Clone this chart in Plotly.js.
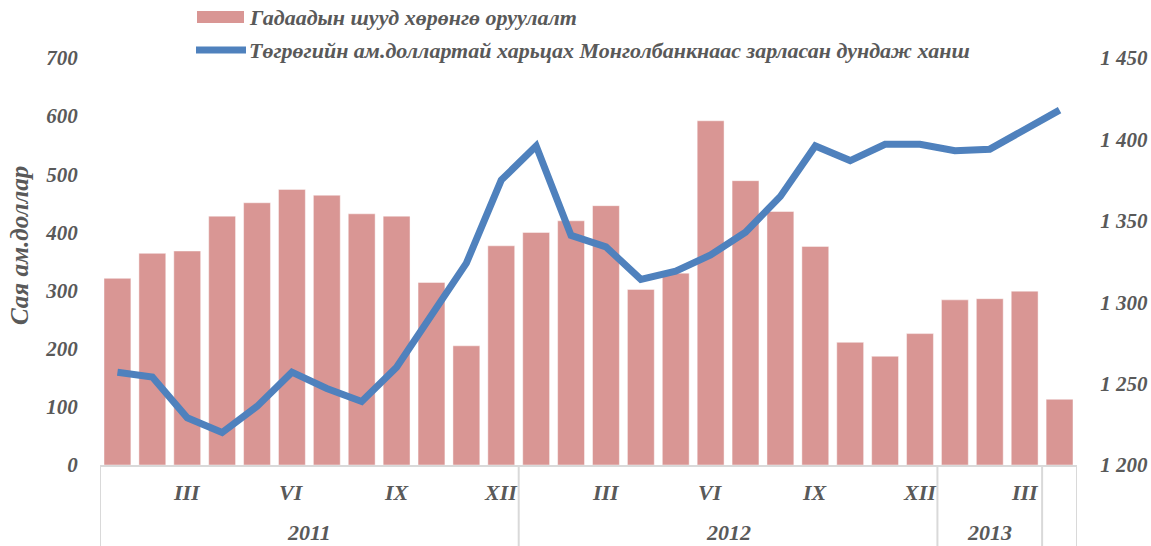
<!DOCTYPE html>
<html>
<head>
<meta charset="utf-8">
<script src="https://cdn.plot.ly/plotly-3.0.1.min.js"></script>
<style>html,body{margin:0;padding:0;background:#fff;}#chart{width:1151px;height:546px;}</style>
</head>
<body>
<div id="chart"></div>
<script>
// Month tick labels (only every third month is labelled)
const monthLabels = ['', '', 'III', '', '', 'VI', '', '', 'IX', '', '', 'XII',
                     '', '', 'III', '', '', 'VI', '', '', 'IX', '', '', 'XII',
                     '', '', 'III', ''];
// Year groups on the category axis
const yearLabels = ['2011', '2012', '2013', ''];
const yearSpans = [12, 12, 3, 1];
// Foreign direct investment, million USD
const fdi = [321, 364, 368, 428, 451, 474, 464, 432, 428, 314, 205, 377,
             400, 420, 446, 302, 330, 592, 489, 436, 376, 211, 187, 226,
             284, 286, 299, 113];
// Average MNT/USD rate announced by the Bank of Mongolia
const rate = [1257, 1254, 1229, 1220, 1236, 1257, 1247, 1239, 1260, 1292, 1324, 1375,
              1396, 1341, 1334, 1314, 1319, 1329, 1343, 1365, 1396, 1387, 1397, 1397,
              1393, 1394, 1406, 1418];
const seriesNames = ['Гадаадын шууд хөрөнгө оруулалт',
                     'Төгрөгийн ам.доллартай харьцах Монголбанкнаас зарласан дундаж ханш'];
const leftTitle = 'Сая ам.доллар';

const x = fdi.map((_, i) => i + 1);
const tickColor = '#595959';
const fam = 'Liberation Serif, Times New Roman, serif';
const fnt = (s) => ({family: fam, size: s, color: tickColor, weight: 'bold', style: 'italic'});

const traces = [
  {type: 'bar', x: x, y: fdi, name: seriesNames[0], yaxis: 'y',
   marker: {color: '#D99694', line: {color: 'rgba(255,255,255,0.45)', width: 1}},
   showlegend: false, hoverinfo: 'y'},
  {type: 'scatter', mode: 'lines', x: x, y: rate, name: seriesNames[1], yaxis: 'y2',
   line: {color: '#4F81BD', width: 7}, showlegend: false, hoverinfo: 'y'}
];

const annotations = [];
const shapes = [];
// month labels
monthLabels.forEach((m, i) => {
  if (m) annotations.push({x: i + 1, y: 0, xref: 'x', yref: 'paper', text: m, showarrow: false,
    yshift: -27, yanchor: 'middle', font: fnt(22)});
});
// year labels + dividers
let start = 0.5;
shapes.push({type: 'line', xref: 'x', yref: 'paper', x0: start, x1: start, y0: 0, y1: -0.2,
  line: {color: '#D9D9D9', width: 2}});
yearLabels.forEach((yl, i) => {
  const end = start + yearSpans[i];
  if (yl) annotations.push({x: (start + end) / 2, y: 0, xref: 'x', yref: 'paper', text: yl,
    showarrow: false, yshift: -67, yanchor: 'middle', font: fnt(22)});
  shapes.push({type: 'line', xref: 'x', yref: 'paper', x0: end, x1: end, y0: 0, y1: -0.2,
    line: {color: '#D9D9D9', width: 2}});
  start = end;
});
// manual legend
shapes.push({type: 'rect', xref: 'paper', yref: 'paper',
  x0: (197 - 100) / 977, x1: (244 - 100) / 977, y0: (465 - 11) / 407, y1: (465 - 23) / 407,
  fillcolor: '#D99694', line: {width: 0}});
shapes.push({type: 'line', xref: 'paper', yref: 'paper',
  x0: (196 - 100) / 977, x1: (246 - 100) / 977, y0: (465 - 50) / 407, y1: (465 - 50) / 407,
  line: {color: '#4F81BD', width: 7}});
annotations.push({xref: 'paper', yref: 'paper', x: (247 - 100) / 977, y: (465 - 17) / 407,
  xanchor: 'left', yanchor: 'middle', text: seriesNames[0], showarrow: false, font: fnt(22)});
annotations.push({xref: 'paper', yref: 'paper', x: (247 - 100) / 977, y: (465 - 50) / 407,
  xanchor: 'left', yanchor: 'middle', text: seriesNames[1], showarrow: false, font: fnt(22)});
// left axis title
annotations.push({xref: 'paper', yref: 'paper', x: (19 - 100) / 977, y: (465 - 246) / 407,
  xanchor: 'center', yanchor: 'middle', textangle: -90, text: leftTitle, showarrow: false,
  font: fnt(25)});

const layout = {
  width: 1151, height: 546,
  margin: {l: 100, r: 74, t: 58, b: 81, pad: 0},
  paper_bgcolor: '#fff', plot_bgcolor: '#fff',
  separators: ', ',
  bargap: 0.23,
  showlegend: false,
  xaxis: {range: [0.5, 28.5], showticklabels: false, ticks: '', showgrid: false, zeroline: false,
          showline: true, linecolor: '#D9D9D9', linewidth: 2, fixedrange: true},
  yaxis: {range: [0, 700], dtick: 100, showgrid: false, zeroline: false, showline: false,
          ticks: 'outside', ticklen: 17, tickcolor: 'rgba(0,0,0,0)', tickfont: fnt(21)},
  yaxis2: {range: [1200, 1450], dtick: 50, overlaying: 'y', side: 'right', showgrid: false,
           zeroline: false, showline: false, tickformat: ',d',
           ticks: 'outside', ticklen: 18, tickcolor: 'rgba(0,0,0,0)', tickfont: fnt(21)},
  shapes: shapes,
  annotations: annotations
};

Plotly.newPlot('chart', traces, layout, {displayModeBar: false, staticPlot: true});
</script>
</body>
</html>
